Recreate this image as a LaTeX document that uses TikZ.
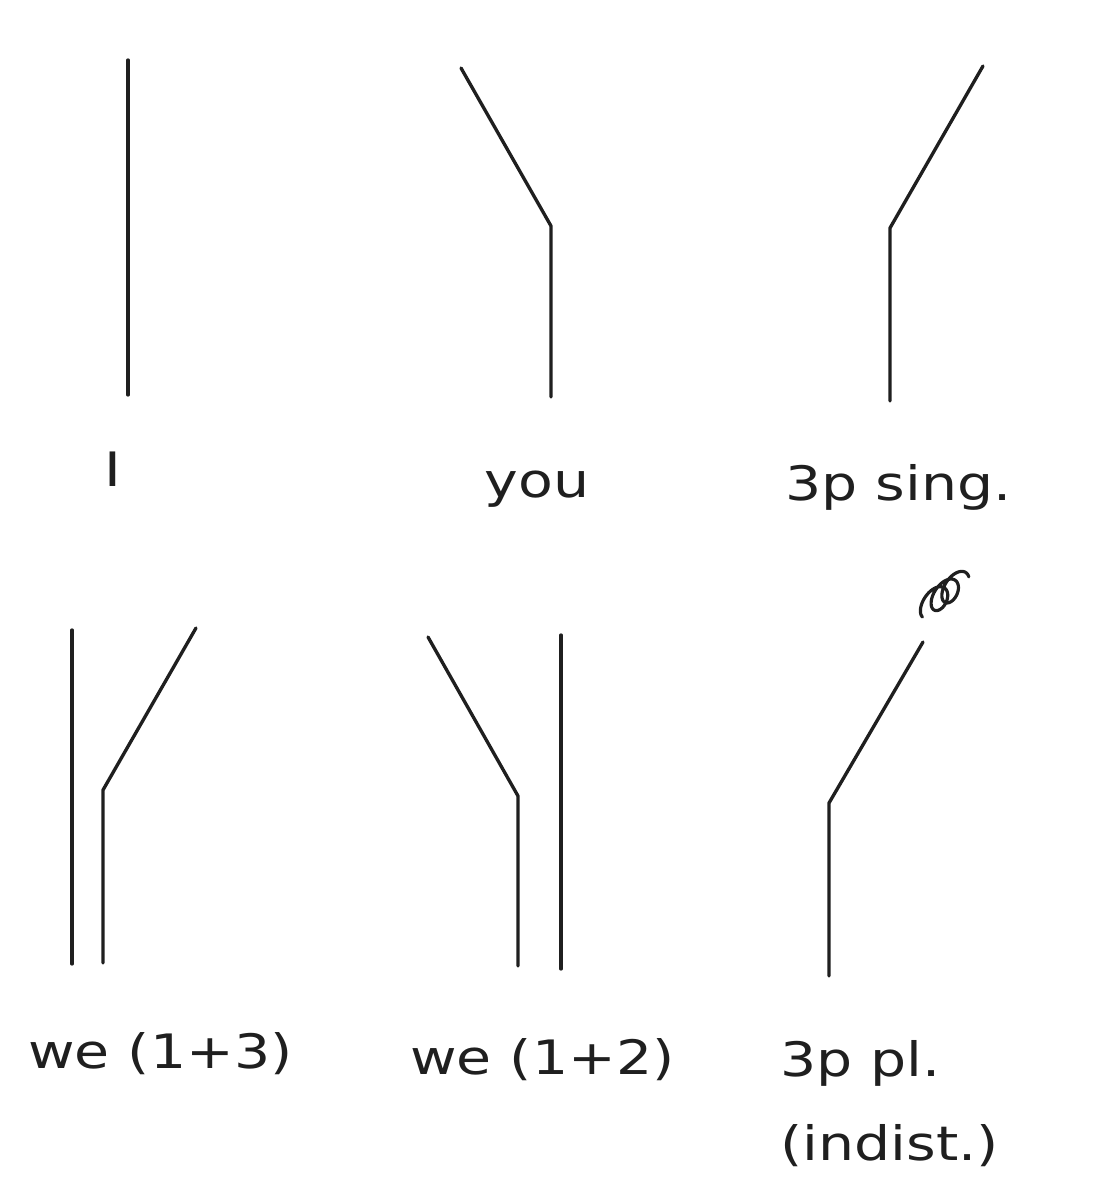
\documentclass[tikz,border=0pt]{standalone}
\usepackage{fontspec}
\newfontfamily\hand[FakeStretch=1.2]{DejaVu Sans}
\begin{document}
\begin{tikzpicture}[x=0.02cm,y=-0.02cm,
  stroke/.style={line width=1.9pt,line cap=round,line join=round,draw=black!88},
  lbl/.style={inner sep=0pt,font=\hand\fontsize{27}{32}\selectfont,text=black!88}]
\useasboundingbox (0,0) rectangle (1118,1199);
% I
\coordinate (i1) at (128,60); \coordinate (i2) at (128,395);
\draw[stroke] (i1) -- (i2);
\node[lbl,anchor=base west] (tI) at (104,486) {I};
% you
\coordinate (y1) at (461,68); \coordinate (y2) at (551,226); \coordinate (y3) at (551,397);
\draw[stroke] (y1) -- (y2) -- (y3);
\node[lbl,anchor=base] (tyou) at (537,497) {you};
% 3p sing
\coordinate (s1) at (983,66); \coordinate (s2) at (890,228); \coordinate (s3) at (890,401);
\draw[stroke] (s1) -- (s2) -- (s3);
\node[lbl,anchor=base west] (tsing) at (785,500) {3p sing.};
% we (1+3)
\coordinate (a1) at (72,630); \coordinate (a2) at (72,964);
\coordinate (b1) at (196,628); \coordinate (b2) at (103,790); \coordinate (b3) at (103,963);
\draw[stroke] (a1) -- (a2);
\draw[stroke] (b1) -- (b2) -- (b3);
\node[lbl,anchor=base west] (twe13) at (28,1068) {we (1+3)};
% we (1+2)
\coordinate (c1) at (428,637); \coordinate (c2) at (518,796); \coordinate (c3) at (518,966);
\coordinate (d1) at (561,635); \coordinate (d2) at (561,969);
\draw[stroke] (c1) -- (c2) -- (c3);
\draw[stroke] (d1) -- (d2);
\node[lbl,anchor=base west] (twe12) at (410,1074) {we (1+2)};
% 3p pl
\coordinate (p1) at (923,642); \coordinate (p2) at (829,803); \coordinate (p3) at (829,976);
\draw[stroke] (p1) -- (p2) -- (p3);
\draw[line width=1.8pt,line cap=round,draw=black!88]
  plot[domain=180:1120,samples=260,smooth]
  ({930 + 0.02979*(\x-180) + 7.5*cos(\x) + 7.83*sin(\x)},
   {604 - 0.02128*(\x-180) - 13.05*cos(\x) + 4.5*sin(\x)});
\node[lbl,anchor=base west] (tpl) at (780,1076) {3p pl.};
\node[lbl,anchor=base west] (tind) at (780,1160) {(indist.)};
\end{tikzpicture}
\end{document}
